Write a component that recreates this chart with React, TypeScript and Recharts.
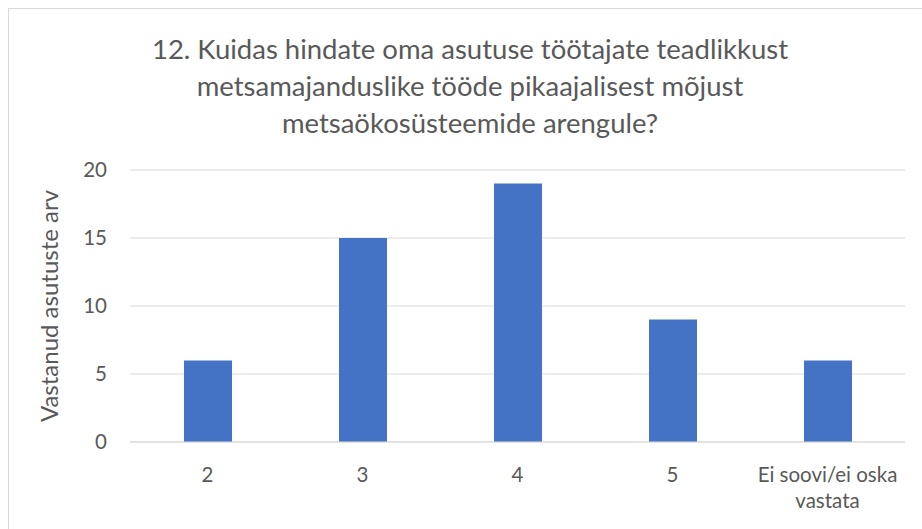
import { Bar, BarChart, CartesianGrid, XAxis, YAxis } from "recharts";

// Survey question 12 – number of responding organisations per rating
const categories = ["2", "3", "4", "5", "Ei soovi/ei oska vastata"];
const counts = [6, 15, 19, 9, 6];
const yTicks = [0, 5, 10, 15, 20];
const titleLines = [
  "12. Kuidas hindate oma asutuse töötajate teadlikkust",
  "metsamajanduslike tööde pikaajalisest mõjust",
  "metsaökosüsteemide arengule?",
];
const yLabel = "Vastanud asutuste arv";

const data = categories.map((c, i) => ({ category: c, count: counts[i] }));

const FONT = "Lato, 'Noto Sans', sans-serif";
const TEXT = "#595959";

// greedy word wrap by character count (category slot is ~155px wide)
function wrap(label: string, maxChars = 18) {
  const lines: string[] = [];
  let cur = "";
  for (const w of label.split(" ")) {
    const next = cur ? cur + " " + w : w;
    if (next.length > maxChars && cur) {
      lines.push(cur);
      cur = w;
    } else {
      cur = next;
    }
  }
  if (cur) lines.push(cur);
  return lines;
}

function CategoryTick(props: any) {
  const { x, y, payload } = props;
  const lines = wrap(String(payload.value));
  return (
    <text x={x} y={y + 32} textAnchor="middle" fontSize={20.5} fontFamily={FONT} fill={TEXT}>
      {lines.map((l, i) => (
        <tspan key={i} x={x} dy={i === 0 ? 0 : 26}>
          {l}
        </tspan>
      ))}
    </text>
  );
}

function YLabel(props: any) {
  const { viewBox } = props;
  const cx = viewBox.x - 22;
  const cy = viewBox.y + viewBox.height / 2;
  return (
    <text
      x={cx}
      y={cy}
      transform={`rotate(-90 ${cx} ${cy})`}
      textAnchor="middle"
      dominantBaseline="central"
      fontSize={24}
      fontFamily={FONT}
      fill={TEXT}
    >
      {yLabel}
    </text>
  );
}

export default function App() {
  return (
    <div style={{ position: "absolute", left: 0, top: 0, width: 922, height: 529, background: "#fff", overflow: "hidden" }}>
      <div
        style={{
          position: "absolute",
          left: 8,
          top: 8,
          width: 930,
          height: 540,
          borderLeft: "1px solid #d9d9d9",
          borderTop: "1px solid #d9d9d9",
        }}
      />
      <div
        style={{
          position: "absolute",
          left: 0,
          top: 30,
          width: 940,
          textAlign: "center",
          fontFamily: FONT,
          fontSize: 27.5,
          lineHeight: "37px",
          color: TEXT,
        }}
      >
        {titleLines.map((l) => (
          <div key={l}>{l}</div>
        ))}
      </div>
      <div style={{ position: "absolute", left: 0, top: 0 }}>
        <BarChart width={922} height={529} data={data} margin={{ top: 170, right: 17, bottom: 57, left: 70 }}>
          <CartesianGrid vertical={false} stroke="#d9d9d9" />
          <XAxis
            dataKey="category"
            height={30}
            axisLine={{ stroke: "#d9d9d9" }}
            tickLine={false}
            interval={0}
            tick={<CategoryTick />}
          />
          <YAxis
            width={60}
            domain={[0, 20]}
            ticks={yTicks}
            axisLine={false}
            tickLine={false}
            tickMargin={17}
            tick={{ fontSize: 20.5, fontFamily: FONT, fill: TEXT }}
            label={<YLabel />}
          />
          <Bar dataKey="count" fill="#4472C4" barSize={48} isAnimationActive={false} />
        </BarChart>
      </div>
    </div>
  );
}
